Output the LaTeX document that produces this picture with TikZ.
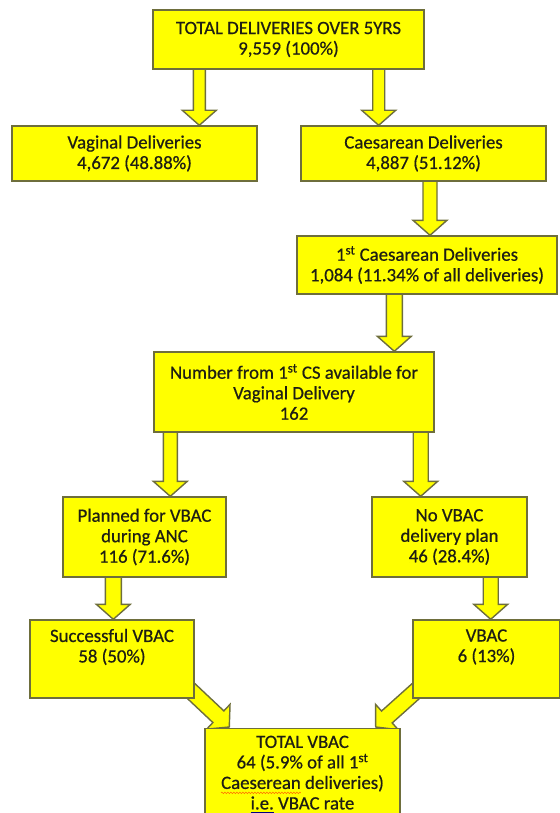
\documentclass[tikz,border=0pt]{standalone}
\usepackage{fontspec}
\setmainfont{Carlito}[FakeBold=0.6]
\usetikzlibrary{calc,backgrounds,decorations.pathmorphing}
\definecolor{boxfill}{RGB}{255,255,0}
\definecolor{boxline}{RGB}{110,110,60}
\definecolor{txt}{RGB}{30,30,20}
\newsavebox\ulbox
\newsavebox\glbox
\newcommand\spellwave[1]{\sbox\ulbox{#1}\leavevmode\rlap{\tikz[overlay, baseline=0pt, x=1pt, y=1pt] \draw[color=orange!85!red, line width=0.5pt, decorate, decoration={zigzag, amplitude=0.8pt, segment length=3pt}] (0,-4) -- (\the\wd\ulbox,-4);}\usebox\ulbox}
\newcommand\grammarline[1]{\sbox\glbox{#1}\leavevmode\rlap{\tikz[overlay, baseline=0pt, x=1pt, y=1pt] \draw[color=blue!50!black, line width=0.9pt] (0,-3) -- (\the\wd\glbox,-3);}\usebox\glbox}
\newcommand\blockarrow[4]{%
  \coordinate (ba-s) at (#1);
  \coordinate (ba-e) at (#2);
  \coordinate (ba-h) at ($(ba-e)!15pt!(ba-s)$);
  \draw[barrow] ($(ba-s)!#3!90:(ba-e)$) -- ($(ba-h)!#3!90:(ba-e)$) -- ($(ba-h)!#4!90:(ba-e)$) -- (ba-e) -- ($(ba-h)!#4!-90:(ba-e)$) -- ($(ba-h)!#3!-90:(ba-e)$) -- ($(ba-s)!#3!-90:(ba-e)$) -- cycle;}
\begin{document}
\begin{tikzpicture}[x=1pt,y=-1pt,
  box/.style={draw=boxline, fill=boxfill, line width=1.4pt, inner sep=0pt, align=center, text=txt, font=\fontsize{18.8}{20.5}\selectfont},
  barrow/.style={draw=boxline, fill=boxfill, line width=1.4pt, line join=miter}]
\useasboundingbox (0,0) rectangle (559,813);
\node[box, minimum width=271pt, minimum height=59pt] (top) at (288.5,39.5) {TOTAL DELIVERIES OVER 5YRS\\9,559 (100\%)};
\node[box, minimum width=245pt, minimum height=55pt] (vag) at (134.5,153.5) {Vaginal Deliveries\\4,672 (48.88\%)};
\node[box, minimum width=245pt, minimum height=55pt] (caes) at (423.5,153.5) {Caesarean Deliveries\\4,887 (51.12\%)};
\node[box, minimum width=260pt, minimum height=58pt] (cs1) at (427,265) {1\textsuperscript{st} Caesarean Deliveries\\1,084 (11.34\% of all deliveries)};
\node[box, minimum width=280pt, minimum height=80pt] (num) at (294,392) {Number from 1\textsuperscript{st} CS available for\\Vaginal Delivery\\162};
\node[box, minimum width=163pt, minimum height=80pt] (plan) at (144.5,537) {Planned for VBAC\\during ANC\\116 (71.6\%)};
\node[box, minimum width=155pt, minimum height=80pt] (novbac) at (449.5,537) {No VBAC\\delivery plan\\46 (28.4\%)};
\node[box, minimum width=164pt, minimum height=78pt] (succ) at (112,659) {Successful VBAC\\58 (50\%)\\\strut};
\node[box, minimum width=147pt, minimum height=78pt] (vbac) at (486.5,659) {VBAC\\6 (13\%)\\\strut};
\node[box, minimum width=195pt, inner ysep=7pt, anchor=north] (total) at (302.5,728) {TOTAL VBAC\\64 (5.9\% of all 1\textsuperscript{st}\\\spellwave{Caeserean} deliveries)\\\grammarline{i.e.} VBAC rate\\[6pt]};
\begin{scope}[on background layer]
\blockarrow{$(top.south west)+(47,-3)$}{ba-s |- vag.north}{6pt}{17pt}
\blockarrow{$(top.south east)+(-46,-3)$}{ba-s |- caes.north}{6pt}{17pt}
\blockarrow{$(caes.south)+(6.5,-3)$}{ba-s |- cs1.north}{7pt}{17pt}
\blockarrow{$(cs1.south west)+(98,-3)$}{ba-s |- num.north}{8pt}{17pt}
\blockarrow{$(num.south west)+(17,-3)$}{ba-s |- plan.north}{7pt}{17pt}
\blockarrow{$(num.south east)+(-14,-3)$}{ba-s |- novbac.north}{7.5pt}{17pt}
\blockarrow{$(plan.south west)+(51,-3)$}{ba-s |- succ.north}{8pt}{17pt}
\blockarrow{$(novbac.south east)+(-37,-3)$}{ba-s |- vbac.north}{7.5pt}{17pt}
\blockarrow{$(succ.south east)+(-5,-9)$}{$(total.north west)+(25,-1)$}{8pt}{17pt}
\blockarrow{$(vbac.south west)+(5,-9)$}{$(total.north east)+(-25,-1)$}{8pt}{17pt}
\end{scope}
\end{tikzpicture}
\end{document}
